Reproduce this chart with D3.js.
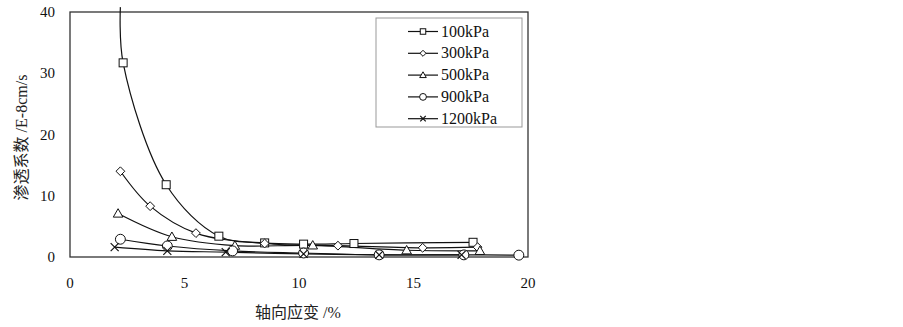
<!DOCTYPE html>
<html>
<head>
<meta charset="utf-8">
<script src="https://cdn.jsdelivr.net/npm/d3@7"></script>
<style>
  html, body { margin: 0; padding: 0; background: #fff; }
</style>
</head>
<body>
<div id="chart"></div>
<script>
// 数据（轴向应变 %, 渗透系数 E-8cm/s）
const seriesNames = ['100kPa', '300kPa', '500kPa', '900kPa', '1200kPa'];
const markers = ['square', 'diamond', 'triangle', 'circle', 'cross'];
const s100x = [2.2, 2.32, 4.2, 6.5, 8.5, 10.2, 12.4, 17.6];
const s100y = [40.8, 31.7, 11.8, 3.4, 2.3, 2.1, 2.2, 2.4];
const s300x = [2.2, 3.5, 5.5, 8.5, 11.7, 15.4, 17.8];
const s300y = [14.0, 8.3, 3.9, 2.2, 1.85, 1.5, 1.6];
const s500x = [2.1, 4.45, 7.2, 10.6, 14.7, 17.9];
const s500y = [7.1, 3.3, 1.85, 1.9, 1.1, 1.0];
const s900x = [2.2, 4.25, 7.1, 10.2, 13.5, 17.2, 19.6];
const s900y = [2.9, 1.8, 1.0, 0.65, 0.35, 0.35, 0.3];
const s1200x = [1.95, 4.25, 6.8, 10.2, 13.5, 17.1];
const s1200y = [1.6, 1.0, 0.8, 0.5, 0.35, 0.35];
const xTicks = [0, 5, 10, 15, 20];
const yTicks = [0, 10, 20, 30, 40];

const allX = [s100x, s300x, s500x, s900x, s1200x];
const allY = [s100y, s300y, s500y, s900y, s1200y];
const series = seriesNames.map((name, i) => ({
  name,
  marker: markers[i],
  points: allX[i].map((x, j) => ({ x, y: allY[i][j] }))
}));

const width = 903, height = 327;
const margin = { top: 12, right: 375, bottom: 70, left: 70 };
const innerWidth = width - margin.left - margin.right;
const innerHeight = height - margin.top - margin.bottom;
const serif = "'Liberation Serif', 'DejaVu Serif', 'Noto Sans CJK SC', serif";

const x = d3.scaleLinear().domain([0, 20]).range([0, innerWidth]);
const y = d3.scaleLinear().domain([0, 40]).range([innerHeight, 0]);

const svg = d3.select('#chart').append('svg')
  .attr('width', width)
  .attr('height', height)
  .style('font-family', serif);
const g = svg.append('g').attr('transform', `translate(${margin.left},${margin.top})`);

// --- 坐标轴（无刻度线） ---
g.append('g')
  .selectAll('text')
  .data(xTicks)
  .join('text')
  .attr('x', d => x(d))
  .attr('y', innerHeight + 31)
  .attr('text-anchor', 'middle')
  .style('font-family', serif)
  .attr('font-size', '15px')
  .attr('fill', '#111')
  .text(d => d);
g.append('g')
  .selectAll('text')
  .data(yTicks)
  .join('text')
  .attr('x', -15)
  .attr('y', d => y(d) + 5)
  .attr('text-anchor', 'end')
  .style('font-family', serif)
  .attr('font-size', '15px')
  .attr('fill', '#111')
  .text(d => d);

// --- 绘图区边框 ---
g.append('rect')
  .attr('x', 0).attr('y', 0)
  .attr('width', innerWidth).attr('height', innerHeight)
  .attr('fill', 'none')
  .attr('stroke', '#333')
  .attr('stroke-width', 1.3);

// --- 轴标题 ---
svg.append('text')
  .attr('x', margin.left + innerWidth / 2 - 1)
  .attr('y', 318)
  .attr('text-anchor', 'middle')
  .style('font-family', serif)
  .attr('font-size', '16px')
  .attr('fill', '#222')
  .text('轴向应变 /%');
svg.append('text')
  .attr('transform', `translate(27,${margin.top + innerHeight / 2 + 3}) rotate(-90)`)
  .attr('text-anchor', 'middle')
  .style('font-family', serif)
  .attr('font-size', '16px')
  .attr('fill', '#222')
  .text('渗透系数 /E-8cm/s');

// --- 曲线 ---
const line = d3.line()
  .x(d => x(d.x))
  .y(d => y(d.y))
  .curve(d3.curveCatmullRom.alpha(0.5));
g.append('g')
  .selectAll('path')
  .data(series)
  .join('path')
  .attr('fill', 'none')
  .attr('stroke', '#111')
  .attr('stroke-width', 1.2)
  .attr('d', d => line(d.points));

// --- 标记 ---
function drawMarker(sel, type, s) {
  if (type === 'square') {
    sel.append('rect').attr('x', -s / 2).attr('y', -s / 2).attr('width', s).attr('height', s)
      .attr('fill', '#fff').attr('stroke', '#111').attr('stroke-width', 1);
  } else if (type === 'diamond') {
    const r = s * 0.55;
    sel.append('path').attr('d', `M0,${-r}L${r},0L0,${r}L${-r},0Z`)
      .attr('fill', '#fff').attr('stroke', '#111').attr('stroke-width', 1);
  } else if (type === 'triangle') {
    const r = s * 0.6;
    sel.append('path').attr('d', `M0,${-r}L${r},${r * 0.75}L${-r},${r * 0.75}Z`)
      .attr('fill', '#fff').attr('stroke', '#111').attr('stroke-width', 1);
  } else if (type === 'circle') {
    sel.append('circle').attr('r', s * 0.62)
      .attr('fill', '#fff').attr('stroke', '#111').attr('stroke-width', 1);
  } else if (type === 'cross') {
    const r = s * 0.5;
    sel.append('path').attr('d', `M${-r},${-r}L${r},${r}M${-r},${r}L${r},${-r}`)
      .attr('fill', 'none').attr('stroke', '#111').attr('stroke-width', 1.2);
  }
}
series.forEach(sr => {
  const pts = sr.name === '100kPa' ? sr.points.slice(1) : sr.points;
  g.append('g')
    .selectAll('g')
    .data(pts)
    .join('g')
    .attr('transform', d => `translate(${x(d.x)},${y(d.y)})`)
    .each(function () { drawMarker(d3.select(this), sr.marker, 8); });
});

// --- 图例 ---
const legend = svg.append('g').attr('transform', 'translate(376,18)');
legend.append('rect')
  .attr('width', 146).attr('height', 109)
  .attr('fill', '#fff')
  .attr('stroke', '#999')
  .attr('stroke-width', 1);
const items = legend.selectAll('g.item')
  .data(series)
  .join('g')
  .attr('class', 'item')
  .attr('transform', (d, i) => `translate(0,${13.5 + i * 21.8})`);
items.append('line')
  .attr('x1', 32).attr('x2', 62)
  .attr('stroke', '#111').attr('stroke-width', 1.2);
items.each(function (d) {
  const m = d3.select(this).append('g').attr('transform', 'translate(47,0)');
  drawMarker(m, d.marker, 5.5);
});
items.append('text')
  .attr('x', 65)
  .attr('y', 5)
  .style('font-family', serif)
  .attr('font-size', '16px')
  .attr('fill', '#111')
  .text(d => d.name);
</script>
</body>
</html>
